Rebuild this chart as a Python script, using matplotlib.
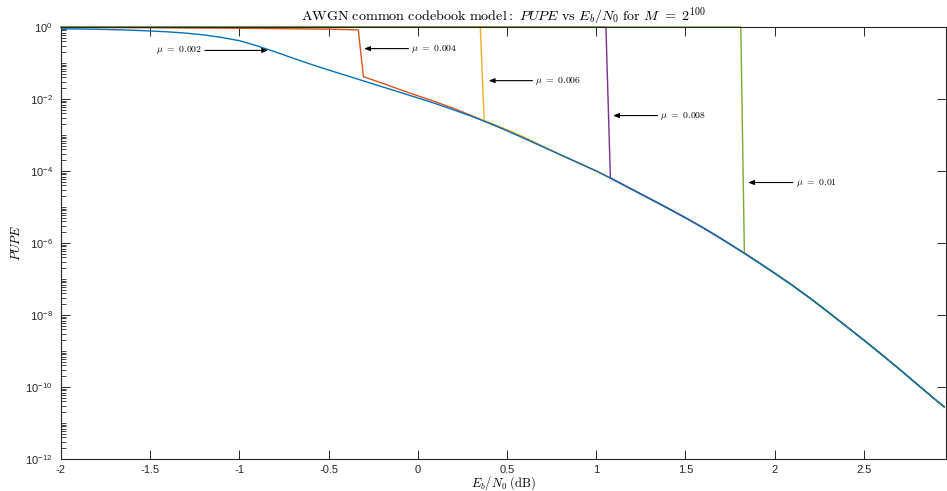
import numpy as np
import matplotlib
matplotlib.use("Agg")
import matplotlib.pyplot as plt
from matplotlib.ticker import FixedLocator, FuncFormatter, NullFormatter

plt.rcParams['mathtext.fontset'] = 'cm'
plt.rcParams['font.family'] = ['Liberation Sans', 'DejaVu Sans']
plt.rcParams['axes.unicode_minus'] = False

# ---- data ----
ebn0 = [-2.0, -1.9, -1.8, -1.7, -1.6, -1.5, -1.4, -1.3, -1.2, -1.1,
        -1.0, -0.9, -0.8, -0.7, -0.6, -0.5, -0.4, -0.3, -0.2, -0.1,
        0.0, 0.1, 0.2, 0.3, 0.4, 0.5, 0.6, 0.7, 0.8, 0.9,
        1.0, 1.1, 1.2, 1.3, 1.4, 1.5, 1.6, 1.7, 1.8, 1.9,
        2.0, 2.1, 2.2, 2.3, 2.4, 2.5, 2.6, 2.7, 2.8, 2.9, 2.95]
log_pupe_mu002 = [-0.050, -0.055, -0.063, -0.075, -0.090, -0.110, -0.135, -0.170, -0.220, -0.290,
                  -0.380, -0.525, -0.690, -0.865, -1.035, -1.195, -1.350, -1.505, -1.660, -1.815,
                  -1.970, -2.130, -2.300, -2.480, -2.670, -2.880, -3.100, -3.325, -3.550, -3.775,
                  -4.000, -4.250, -4.510, -4.770, -5.030, -5.300, -5.580, -5.880, -6.190, -6.510,
                  -6.840, -7.180, -7.540, -7.920, -8.310, -8.700, -9.100, -9.510, -9.930, -10.350, -10.550]

red_x = [-2.0, -1.5, -1.0, -0.5, -0.334, -0.305, -0.2, -0.1, 0.0, 0.1, 0.2, 0.3]
red_log = [-0.01, -0.02, -0.035, -0.06, -0.08, -1.38, -1.56, -1.74, -1.91, -2.08, -2.26, -2.46]

yellow_x = [-2.0, 0.35, 0.372, 0.45, 0.5, 0.6, 0.7]
yellow_log = [0.0, 0.0, -2.60, -2.75, -2.85, -3.07, -3.31]

purple_x = [-2.0, 1.054, 1.079]
purple_log = [0.0, 0.0, -4.19]

green_x = [-2.0, 1.81, 1.83]
green_log = [0.0, 0.0, -6.28]

mu_labels = ['0.002', '0.004', '0.006', '0.008', '0.01']
# arrow head (x, log10 y) and text x
arrow_heads = [(-0.839, -0.65), (-0.301, -0.60), (0.397, -1.49), (1.094, -2.46), (1.851, -4.32)]
arrow_tails_x = [-1.209, -0.037, 0.658, 1.359, 2.117]

xticks = [-2, -1.5, -1, -0.5, 0, 0.5, 1, 1.5, 2, 2.5]
yticks_exp = [0, -2, -4, -6, -8, -10, -12]

colors = ['#0072BD', '#D95319', '#EDB120', '#7E2F8E', '#77AC30']

# ---- build series ----
bx = np.array(ebn0)
by = 10.0 ** np.array(log_pupe_mu002)


def with_tail(hx, hlog):
    hx = np.array(hx)
    hy = 10.0 ** np.array(hlog)
    m = bx > hx[-1]
    return np.concatenate([hx, bx[m]]), np.concatenate([hy, by[m]])


series = [with_tail(red_x, red_log), with_tail(yellow_x, yellow_log),
          with_tail(purple_x, purple_log), with_tail(green_x, green_log)]

fig = plt.figure(figsize=(9.47, 4.91), dpi=100)
ax = fig.add_axes([61 / 947, 32 / 491, 885 / 947, 432 / 491])

for (sx, sy), c in zip(series, colors[1:]):
    ax.plot(sx, sy, color=c, lw=1.0, clip_on=False, zorder=2)
ax.plot(bx, by, color=colors[0], lw=1.0, zorder=3)

ax.set_yscale('log')
ax.set_xlim(-2, 2.96)
ax.set_ylim(1e-12, 1)

ax.xaxis.set_major_locator(FixedLocator(xticks))
ax.xaxis.set_major_formatter(FuncFormatter(lambda v, p: '%g' % v))
ax.yaxis.set_major_locator(FixedLocator([10.0 ** e for e in yticks_exp]))
ax.yaxis.set_major_formatter(FuncFormatter(lambda v, p: r'$\mathregular{10^{%d}}$' % round(np.log10(v))))
minor = [k * 10.0 ** d for d in range(-12, 0) for k in range(1, 10)
         if not (k == 1 and d % 2 == 0)]
ax.yaxis.set_minor_locator(FixedLocator(minor))
ax.yaxis.set_minor_formatter(NullFormatter())

gray = '#262626'
for s in ax.spines.values():
    s.set_color(gray)
    s.set_linewidth(0.8)
ax.tick_params(which='major', direction='in', length=6.5, width=0.7, colors=gray,
               labelsize=8, top=True, right=True)
ax.tick_params(axis='x', which='major', pad=4)
ax.tick_params(axis='y', which='major', pad=6)
ax.tick_params(which='minor', direction='in', length=3.5, width=0.6, colors=gray,
               left=True, right=False)
ax.tick_params(axis='x', which='minor', bottom=False, top=False)

ax.set_title(r'$\mathrm{AWGN\ common\ codebook\ model:}\ PUPE\ \mathrm{vs}\ E_b/N_0\ \mathrm{for}\ M\ =\ 2^{100}$',
             fontsize=10.2, pad=4, color='black')
ax.set_xlabel(r'$E_b/N_0\ \mathrm{(dB)}$', fontsize=9, labelpad=0)
ax.set_ylabel(r'$PUPE$', fontsize=9, labelpad=2)

for i, (lab, (hx, hl), tx) in enumerate(zip(mu_labels, arrow_heads, arrow_tails_x)):
    ha = 'right' if i == 0 else 'left'
    ax.annotate(r'$\mu\ =\ %s$' % lab, xy=(hx, 10.0 ** hl), xytext=(tx, 10.0 ** hl),
                fontsize=7, ha=ha, va='center',
                arrowprops=dict(arrowstyle='-|>,head_length=0.5,head_width=0.2',
                                color='black', lw=0.8, shrinkA=0, shrinkB=0))

fig.savefig('out.png', dpi=100)
